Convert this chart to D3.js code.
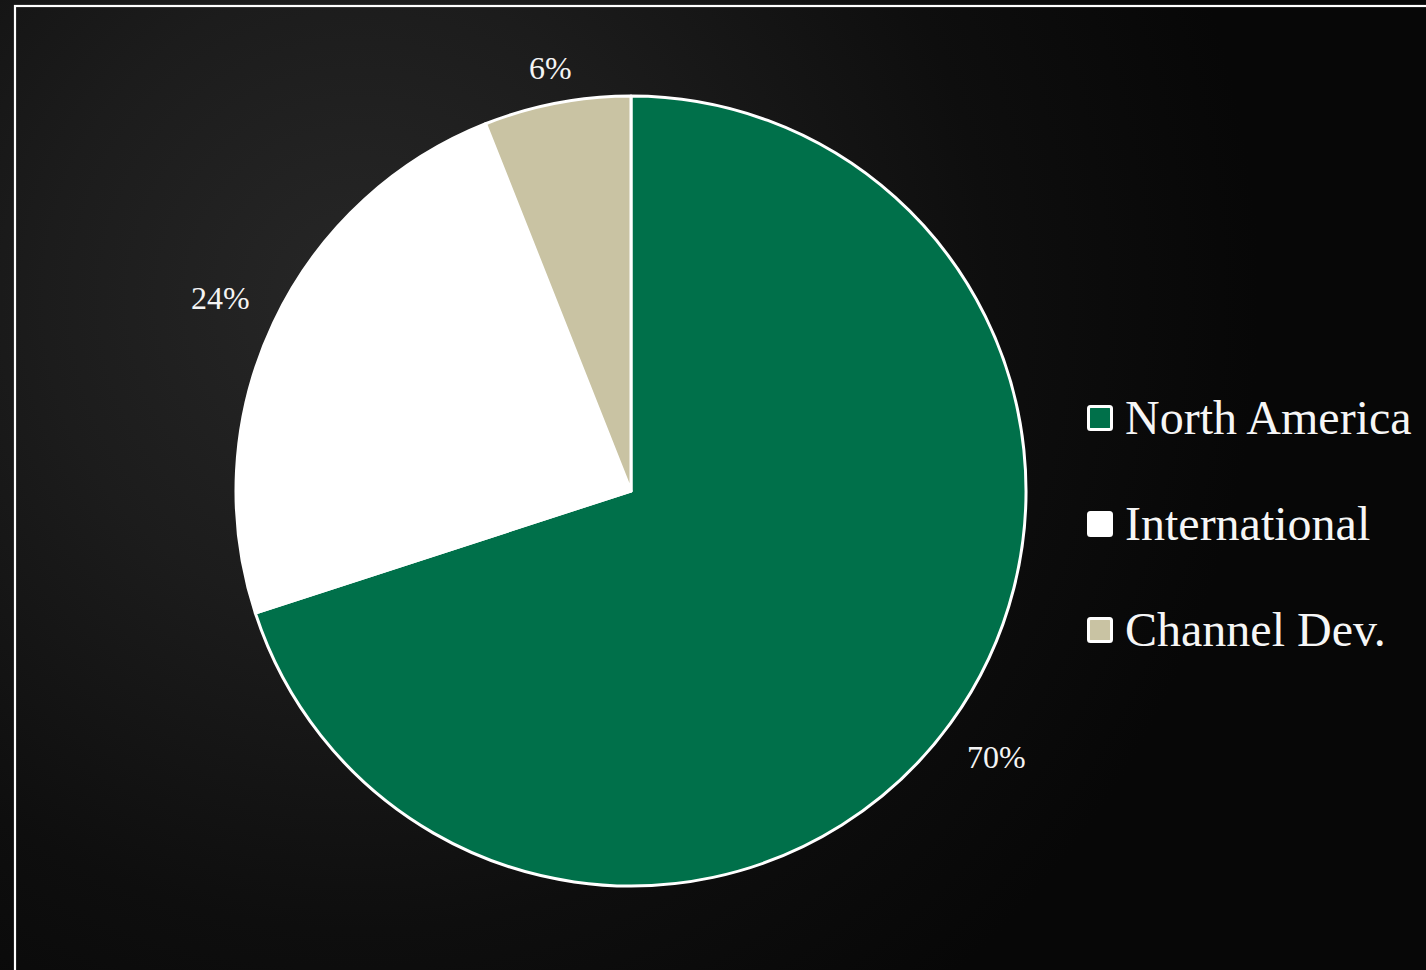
<!DOCTYPE html>
<html>
<head>
<meta charset="utf-8">
<script src="https://cdn.jsdelivr.net/npm/d3@7"></script>
<style>
  html, body { margin: 0; padding: 0; background: #111; overflow: hidden; }
  svg { display: block; }
</style>
</head>
<body>
<svg id="chart" width="1426" height="970"></svg>
<script>
// ---- data ----
const categories = ["North America", "International", "Channel Dev."];
const values = [70, 24, 6];
const labels = ["70%", "24%", "6%"];
const colors = ["#00704A", "#FFFFFF", "#C9C3A3"];

const W = 1426, H = 970;
const svg = d3.select("#chart");
const fontFamily = "'Liberation Serif', 'Times New Roman', serif";

// background
const defs = svg.append("defs");
const grad = defs.append("radialGradient")
  .attr("id", "bg").attr("gradientUnits", "userSpaceOnUse")
  .attr("cx", 360).attr("cy", 300).attr("r", 900);
grad.append("stop").attr("offset", "0%").attr("stop-color", "#272727");
grad.append("stop").attr("offset", "35%").attr("stop-color", "#1c1c1c");
grad.append("stop").attr("offset", "70%").attr("stop-color", "#0e0e0e");
grad.append("stop").attr("offset", "100%").attr("stop-color", "#070707");
svg.append("rect").attr("width", W).attr("height", H).attr("fill", "url(#bg)");

// frame
svg.append("rect")
  .attr("x", 15).attr("y", 6).attr("width", 1600).attr("height", 1100)
  .attr("fill", "none").attr("stroke", "#ffffff").attr("stroke-width", 2.2);

// pie
const cx = 631, cy = 491, r = 395;
const pie = d3.pie().sort(null).value(d => d)(values);
const arc = d3.arc().innerRadius(0).outerRadius(r);
const g = svg.append("g").attr("transform", `translate(${cx},${cy})`);

g.selectAll("path.slice").data(pie).join("path")
  .attr("class", "slice")
  .attr("d", arc)
  .attr("fill", (d, i) => colors[i])
  .attr("stroke", "#ffffff")
  .attr("stroke-width", 3)
  .attr("stroke-linejoin", "round");

// data labels, outside end
const labelSize = 32, gap = 24;
g.selectAll("text.lbl").data(pie).join("text")
  .attr("class", "lbl")
  .attr("font-family", fontFamily)
  .attr("font-size", labelSize)
  .attr("fill", "#f4f4f4")
  .attr("text-anchor", "middle")
  .attr("dominant-baseline", "central")
  .text((d, i) => labels[i])
  .each(function (d) {
    const bb = this.getBBox();
    const a = (d.startAngle + d.endAngle) / 2;
    const ux = Math.sin(a), uy = -Math.cos(a);
    const dist = r + gap + Math.abs(ux) * bb.width * 0.6 + Math.abs(uy) * bb.height * 0.2;
    d3.select(this).attr("x", ux * dist).attr("y", uy * dist);
  });

// legend
const legY = d3.scalePoint().domain(categories).range([419, 631]);
const leg = svg.append("g");
const items = leg.selectAll("g").data(categories).join("g")
  .attr("transform", d => `translate(1087, ${legY(d)})`);
items.append("rect")
  .attr("x", 1.5).attr("y", -12.5).attr("width", 23).attr("height", 23)
  .attr("rx", 2)
  .attr("fill", (d, i) => colors[i])
  .attr("stroke", "#ffffff").attr("stroke-width", 3);
items.append("text")
  .attr("x", 38).attr("y", 15)
  .attr("font-family", fontFamily)
  .attr("font-size", 48)
  .attr("fill", "#f6f6f6")
  .text(d => d);
</script>
</body>
</html>
